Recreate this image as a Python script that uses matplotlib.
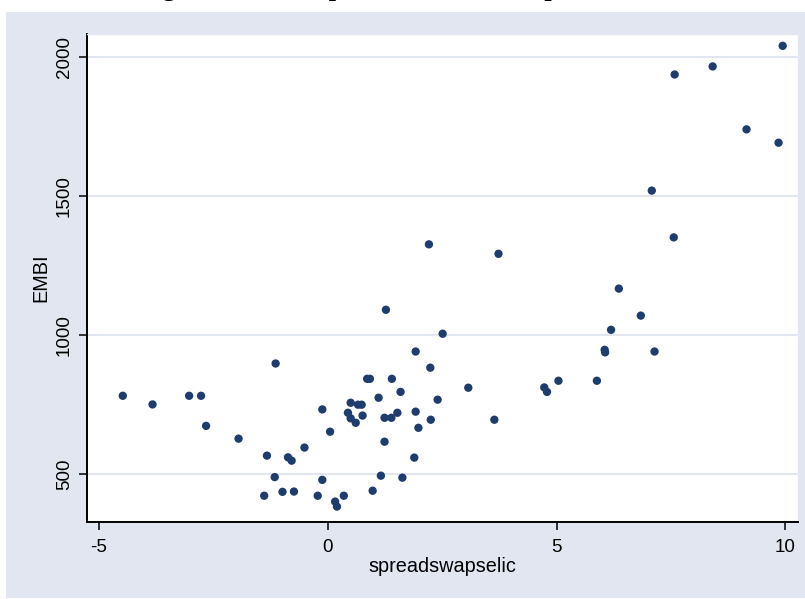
import matplotlib
matplotlib.use('Agg')
import matplotlib.pyplot as plt
from matplotlib.patches import Rectangle

# spread swap-selic vs EMBI
spreadswapselic = [-4.48, -3.83, -3.03, -2.77, -2.66, -1.95, -1.14, -1.33, -0.87, -0.79,
                   -1.16, -1.39, -0.99, -0.74, -0.51, -0.12, 0.05, -0.12, -0.22, 0.16,
                   0.20, 0.35, 0.44, 0.50, 0.50, 0.61, 0.66, 0.74, 0.76, 0.86,
                   0.92, 1.11, 1.24, 1.39, 1.24, 1.16, 0.98, 1.27, 1.40, 1.52,
                   1.59, 1.92, 2.24, 2.40, 1.92, 2.25, 1.98, 1.89, 1.63, 2.51,
                   2.21, 3.07, 3.64, 3.73, 4.73, 4.79, 5.04, 5.88, 6.05, 6.06,
                   6.19, 6.36, 6.84, 7.14, 7.08, 7.56, 7.58, 8.41, 9.15, 9.85,
                   9.94]
embi = [782, 751, 782, 782, 674, 628, 898, 567, 561, 549,
        490, 423, 437, 438, 596, 733, 653, 480, 423, 402,
        384, 423, 721, 757, 701, 685, 750, 750, 711, 843,
        843, 775, 703, 703, 617, 495, 441, 1091, 843, 721,
        796, 941, 883, 768, 725, 696, 667, 560, 488, 1005,
        1326, 811, 696, 1292, 812, 796, 836, 836, 947, 938,
        1019, 1167, 1070, 941, 1519, 1351, 1936, 1965, 1739, 1691,
        2039]

x_ticks = [-5, 0, 5, 10]
y_ticks = [500, 1000, 1500, 2000]

bg = '#e1e6f0'
navy = '#1f3c6e'

plt.rcParams['axes.unicode_minus'] = False

fig = plt.figure(figsize=(8.05, 5.99), dpi=100)
fig.patch.set_facecolor('white')
fig.patches.append(Rectangle((6 / 805, 1 / 599), 799 / 805, 586 / 599,
                             transform=fig.transFigure, facecolor=bg,
                             edgecolor='none', zorder=-5))

ax = fig.add_axes([87 / 805, 1 - 522.3 / 599, 711 / 805, 488.3 / 599])
ax.set_facecolor('white')
ax.scatter(spreadswapselic, embi, s=36, color=navy, edgecolors='none', zorder=3)

ax.set_xlim(-5.262, 10.275)
ax.set_ylim(327.6, 2081.5)
ax.set_xticks(x_ticks)
ax.set_yticks(y_ticks)
ax.grid(axis='y', color=bg, linewidth=1.5)
ax.set_axisbelow(True)

for side in ['top', 'right']:
    ax.spines[side].set_color(bg)
    ax.spines[side].set_linewidth(1)
for side in ['left', 'bottom']:
    ax.spines[side].set_linewidth(1.4)

ax.tick_params(axis='both', length=6, width=1.1, labelsize=13.5,
               labelfontfamily='Liberation Sans')
ax.tick_params(axis='x', pad=6)
ax.tick_params(axis='y', pad=4)
for lab in ax.get_yticklabels():
    lab.set_rotation(90)
    lab.set_va('center')

ax.set_xlabel('spreadswapselic', fontsize=14.3, family='Liberation Sans', labelpad=1)
ax.set_ylabel('EMBI', fontsize=14.3, family='Liberation Sans', labelpad=4)

# title mostly above the top edge, as in the source
fig.text(0.465, 1 + 4 / 599, 'Figure 3: Scatterplot of EMBI and spread',
         ha='center', va='baseline', fontsize=19, fontweight='bold',
         family='Liberation Serif')

fig.savefig('out.png', dpi=100)
